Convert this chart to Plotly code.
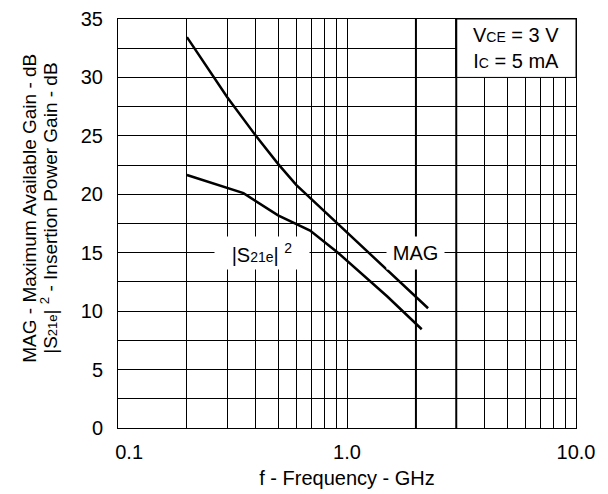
import math
import plotly.graph_objects as go

# ---- data ----
mag_freq = [0.2, 0.3, 0.4, 0.5, 0.6, 0.8, 1.0, 1.5, 2.26]
mag_gain = [33.45, 28.3, 25.0, 22.6, 20.8, 18.5, 16.8, 13.5, 10.25]

s21_freq = [0.2, 0.353, 0.5, 0.69, 0.913, 1.0, 1.5, 2.12]
s21_gain = [21.65, 20.1, 18.2, 16.9, 15.0, 14.3, 11.25, 8.45]

x_tickvals = [0.1, 0.2, 0.3, 0.4, 0.5, 0.6, 0.7, 0.8, 0.9,
              1, 2, 3, 4, 5, 6, 7, 8, 9, 10]
x_ticktext = ["&nbsp;&nbsp;&nbsp;&nbsp;0.1", "", "", "", "", "", "", "", "",
              "1.0", "", "", "", "", "", "", "", "", "10.0"]
y_tickvals = [0, 2.5, 5, 7.5, 10, 12.5, 15, 17.5, 20, 22.5, 25, 27.5, 30, 32.5, 35]
y_ticktext = ["0", "", "5", "", "10", "", "15", "", "20", "", "25", "", "30", "", "35"]

heavy_lines = [2, 3]

FONT = "Liberation Sans, Arial, sans-serif"
FS = 20

fig = go.Figure()
fig.add_trace(go.Scatter(x=mag_freq, y=mag_gain, mode="lines",
                         line=dict(color="black", width=2.5), showlegend=False))
fig.add_trace(go.Scatter(x=s21_freq, y=s21_gain, mode="lines",
                         line=dict(color="black", width=2.5), showlegend=False))

shapes = []
for hx in heavy_lines:
    shapes.append(dict(type="line", xref="x", yref="y", x0=hx, x1=hx, y0=0, y1=35,
                       line=dict(color="black", width=2), layer="between"))
# condition box
shapes.append(dict(type="rect", xref="x", yref="y", x0=3, x1=10, y0=30, y1=35,
                   fillcolor="white", line=dict(color="black", width=1), layer="above"))
shapes.append(dict(type="line", xref="x", yref="y", x0=3, x1=3, y0=30, y1=35,
                   line=dict(color="black", width=2), layer="above"))

annotations = [
    dict(x=math.log10(0.425), y=15, xref="x", yref="y", showarrow=False,
         text="|S<span style='font-size:14px'>21e</span>| <sup>2</sup>",
         font=dict(family=FONT, size=FS, color="black"),
         bgcolor="white", width=92, height=30, borderpad=1),
    dict(x=math.log10(2.0), y=15, xref="x", yref="y", showarrow=False,
         text="MAG", font=dict(family=FONT, size=FS, color="black"),
         bgcolor="white", width=55, height=30, borderpad=1),
    dict(x=0.738, y=32.5, xref="x", yref="y", showarrow=False,
         text="V<span style='font-size:14px'>CE</span> = 3 V<br>I<span style='font-size:14px'>C</span> = 5 mA",
         font=dict(family=FONT, size=FS, color="black"), align="center"),
    dict(x=30, y=0.536, xref="paper", yref="paper", showarrow=False,
         text="MAG - Maximum Available Gain - dB", textangle=-90,
         xanchor="center", yanchor="middle",
         font=dict(family=FONT, size=19, color="black")),
    dict(x=49, y=0.536, xref="paper", yref="paper", showarrow=False,
         text="|S<span style='font-size:13px'>21e</span>| <sup>2</sup> - Insertion Power Gain - dB",
         textangle=-90, xanchor="center", yanchor="middle",
         font=dict(family=FONT, size=19, color="black")),
]
# convert pixel x of the y-title lines to paper units
L, R = 118, 32
W = 608
for a in annotations[3:]:
    a["x"] = (a["x"] - L) / (W - L - R)

fig.update_layout(
    width=W, height=494,
    margin=dict(l=L, r=R, t=8, b=66),
    paper_bgcolor="white", plot_bgcolor="white",
    font=dict(family=FONT, size=FS, color="black"),
    shapes=shapes, annotations=annotations,
    xaxis=dict(type="log", range=[-1, 1], tickmode="array",
               tickvals=x_tickvals, ticktext=x_ticktext,
               showgrid=True, gridcolor="black", gridwidth=1,
               showline=True, linecolor="black", linewidth=1, mirror=True,
               ticks="", ticklabelstandoff=6, zeroline=False,
               tickfont=dict(family=FONT, size=FS, color="black"),
               title=dict(text="f - Frequency - GHz", standoff=8,
                          font=dict(family=FONT, size=FS, color="black"))),
    yaxis=dict(range=[0, 35], tickmode="array",
               tickvals=y_tickvals, ticktext=y_ticktext,
               showgrid=True, gridcolor="black", gridwidth=1,
               showline=True, linecolor="black", linewidth=1, mirror=True,
               ticks="", ticklabelstandoff=10, zeroline=False,
               ticklabeloverflow="allow",
               tickfont=dict(family=FONT, size=FS, color="black")),
)

fig.write_html("out.html", config={"displayModeBar": False},
               post_script="document.body.style.margin='0';")
